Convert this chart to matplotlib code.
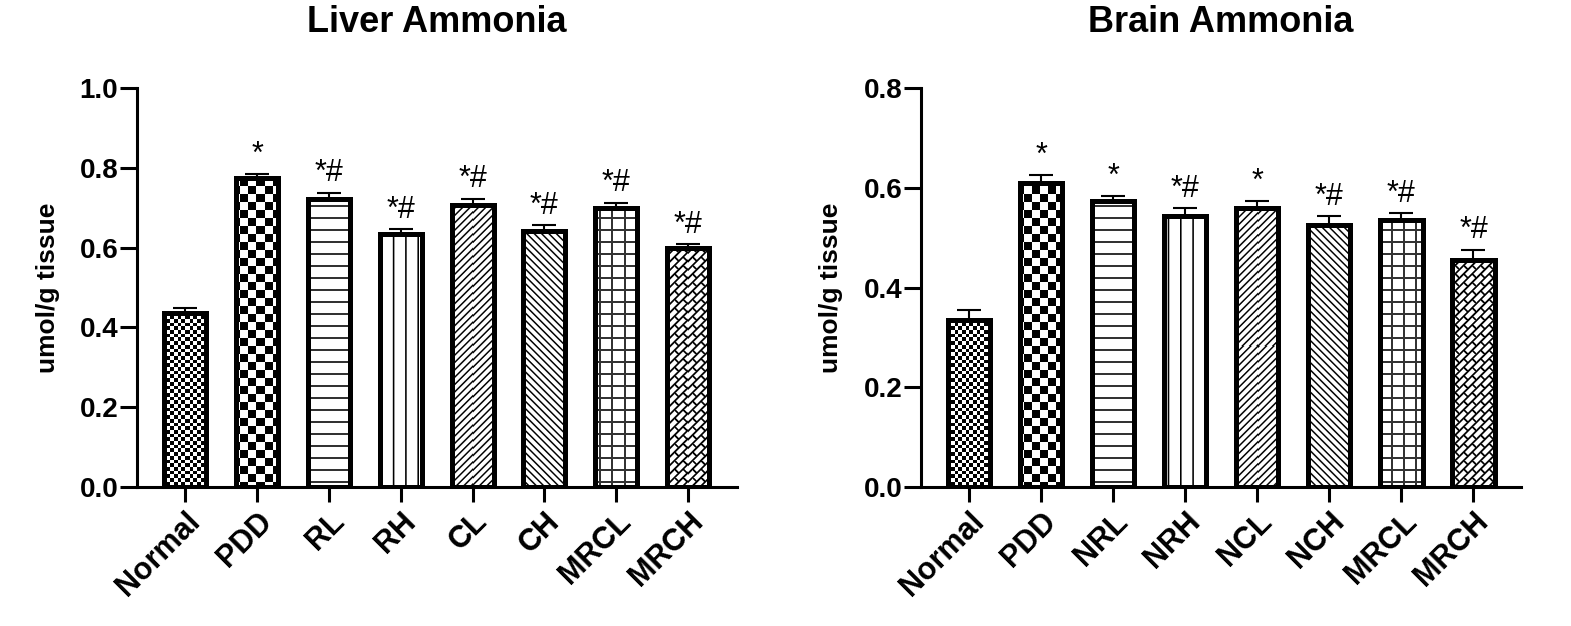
import numpy as np
import matplotlib
matplotlib.use('Agg')
import matplotlib.pyplot as plt

plt.rcParams['font.family'] = ['Liberation Sans', 'DejaVu Sans']

# data (mean, upper SEM)
liver_groups = ['Normal', 'PDD', 'RL', 'RH', 'CL', 'CH', 'MRCL', 'MRCH']
liver_mean = [0.437, 0.775, 0.723, 0.634, 0.708, 0.642, 0.698, 0.598]
liver_sem = [0.012, 0.009, 0.015, 0.013, 0.015, 0.015, 0.015, 0.011]
liver_marks = ['', '*', '*#', '*#', '*#', '*#', '*#', '*#']

brain_groups = ['Normal', 'PDD', 'NRL', 'NRH', 'NCL', 'NCH', 'MRCL', 'MRCH']
brain_mean = [0.335, 0.609, 0.573, 0.544, 0.559, 0.526, 0.535, 0.456]
brain_sem = [0.020, 0.017, 0.010, 0.015, 0.015, 0.017, 0.015, 0.020]
brain_marks = ['', '*', '*', '*#', '*', '*#', '*#', '*#']

fills = ['finecheck', 'check', 'hline', 'vline', 'fdiag', 'bdiag', 'grid', 'brick']


def lines(c, p, w=1.6):
    d = np.abs((c + p / 2) % p - p / 2)
    return np.clip(w / 2 + 0.5 - d, 0, 1)


#pixel patterns (Prism style fills), X/Y are pixel centres in display coords
def pattern(kind, X, Y):
    if kind == 'finecheck':
        s = 3.7
        return ((np.floor(X / s) + np.floor(Y / s)) % 2).astype(float)
    if kind == 'check':
        s = 8.0
        return ((np.floor(X / s) + np.floor(Y / s)) % 2).astype(float)
    if kind == 'hline':
        return lines(Y, 12.0)
    if kind == 'vline':
        return lines(X, 12.3)
    if kind == 'fdiag':
        return lines((X - Y) / np.sqrt(2), 5.2, 1.5)
    if kind == 'bdiag':
        return lines((X + Y) / np.sqrt(2), 5.2, 1.5)
    if kind == 'grid':
        return np.maximum(lines(X, 12.0), lines(Y, 12.0))
    if kind == 'brick':
        u = (X + Y) / np.sqrt(2)
        v = (Y - X) / np.sqrt(2)
        h = 6.0
        L = 12.0
        row = np.floor(v / h)
        u2 = u + (row % 2) * L / 2
        return np.maximum(lines(v, h, 1.8), lines(u2, L, 1.8))
    return np.zeros_like(X)


def panel(ax, groups, mean, sem, marks, ymax, xlim, title, labx):
    x = np.arange(len(groups))
    ax.set_xlim(*xlim)
    ax.set_ylim(0, ymax)
    ax.set_autoscale_on(False)
    w = 0.585

    bars = ax.bar(x, mean, width=w, color='white', edgecolor='none', zorder=1)
    for rect, kind in zip(bars, fills):
        x0, y0 = rect.get_x(), rect.get_y()
        x1, y1 = x0 + rect.get_width(), y0 + rect.get_height()
        (px0, py0), (px1, py1) = ax.transData.transform([[x0, y0], [x1, y1]])
        px0, py0 = np.floor(px0), np.floor(py0)
        px1, py1 = np.ceil(px1), np.ceil(py1)
        X, Y = np.meshgrid(np.arange(px0, px1) + 0.5, np.arange(py0, py1) + 0.5)
        a = pattern(kind, X, Y)
        img = np.zeros(a.shape + (4,))
        img[..., 3] = a
        inv = ax.transData.inverted()
        (dx0, dy0), (dx1, dy1) = inv.transform([[px0, py0], [px1, py1]])
        ax.imshow(img, extent=(dx0, dx1, dy0, dy1), origin='lower',
                  interpolation='nearest', aspect='auto', clip_path=rect, zorder=2)

    ax.errorbar(x, mean, yerr=[np.zeros(len(x)), sem], fmt='none', ecolor='black',
                elinewidth=1.5, capsize=8.3, capthick=1.5, zorder=3)
    ax.bar(x, mean, width=w, facecolor='none', edgecolor='black', linewidth=3.6, zorder=4)

    for xi, m, s, t in zip(x, mean, sem, marks):
        if t:
            ax.annotate(t, (xi, m + s), xytext=(0, 3), textcoords='offset points',
                        ha='center', va='bottom', fontsize=22)

    ax.set_xlim(*xlim)
    ax.set_ylim(0, ymax)
    ax.set_yticks(np.arange(0, ymax + 0.01, 0.2))
    ax.set_yticklabels(['%.1f' % v for v in np.arange(0, ymax + 0.01, 0.2)])
    ax.set_xticks(x)
    ax.set_xticklabels(groups, rotation=45, ha='right', rotation_mode='anchor')

    for s in ['top', 'right']:
        ax.spines[s].set_visible(False)
    for s in ['left', 'bottom']:
        ax.spines[s].set_linewidth(2.2)
    ax.tick_params(width=2.2, length=12, labelsize=20, pad=1.5)
    ax.tick_params(axis='x', length=11, labelsize=22, pad=3)
    for lab in ax.get_xticklabels() + ax.get_yticklabels():
        lab.set_fontweight('bold')

    ax.set_ylabel('umol/g tissue', fontsize=19, fontweight='bold')
    ax.yaxis.set_label_coords(labx, 0.5)
    ax.text(0.5, 1 + 65 / 399, title, transform=ax.transAxes, ha='center', va='center',
            fontsize=26, fontweight='bold')


fig = plt.figure(figsize=(15.71, 6.26), dpi=100)
ax1 = fig.add_axes([137 / 1571, 139 / 626, 600 / 1571, 399 / 626])
ax2 = fig.add_axes([921 / 1571, 139 / 626, 600 / 1571, 399 / 626])

panel(ax1, liver_groups, liver_mean, liver_sem, liver_marks, 1.0, (-0.675, 7.685),
      'Liver Ammonia', -0.128)
panel(ax2, brain_groups, brain_mean, brain_sem, brain_marks, 0.8, (-0.67, 7.66),
      'Brain Ammonia', -0.13)

fig.savefig('out.png', dpi=100)
